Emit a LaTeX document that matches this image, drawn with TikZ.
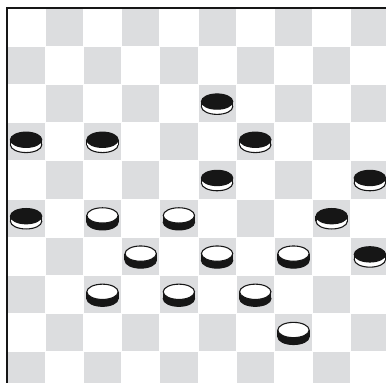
\documentclass[tikz,border=0pt]{standalone}
\usepackage{tikz}
\usepackage{xcolor}
\definecolor{boardgray}{RGB}{220,221,223}
\definecolor{inkblack}{RGB}{22,22,22}

\begin{document}
\begin{tikzpicture}[x=1cm, y=-1cm,
 sq/.style={fill=boardgray, draw=white, line width=.5pt},
 rim/.style={draw=inkblack, line width=.8pt},
 frame/.style={draw=inkblack, line width=1.5pt},
 whitepc/.pic={
  \filldraw[rim, fill=inkblack] (0,.11) ellipse [x radius=.41, y radius=.2];
  \fill[inkblack] (-.41,-.07) rectangle (.41,.11);
  \draw[rim] (-.41,-.07) -- (-.41,.11) (.41,-.07) -- (.41,.11);
  \filldraw[rim, fill=white] (0,-.07) ellipse [x radius=.41, y radius=.2];
 },
 blackpc/.pic={
  \filldraw[rim, fill=white] (0,.085) ellipse [x radius=.41, y radius=.2];
  \fill[white] (-.41,-.05) rectangle (.41,.085);
  \draw[rim] (-.41,-.05) -- (-.41,.085) (.41,-.05) -- (.41,.085);
  \filldraw[rim, fill=inkblack] (0,-.05) ellipse [x radius=.41, y radius=.2];
 }]
\useasboundingbox (0,0) rectangle (10.105,10.026);
\clip (0,0) rectangle (10.105,10.026);
\begin{scope}[shift={(0.183,0.209)}]
\foreach \r in {0,...,9}
 \foreach \c in {0,...,9} {
  \pgfmathtruncatemacro\odd{mod(\r+\c,2)}
  \ifnum\odd=1 \path[sq] (\c,\r) rectangle (\c+1,\r+1); \fi
 }
\draw[frame] (0,0) rectangle (10,10);
\foreach \c/\r in {5/2, 0/3, 2/3, 6/3, 5/4, 9/4, 0/5, 8/5, 9/6}
 \pic at (\c+.5,\r+.5) {blackpc};
\foreach \c/\r in {2/5, 4/5, 3/6, 5/6, 7/6, 2/7, 4/7, 6/7, 7/8}
 \pic at (\c+.5,\r+.5) {whitepc};
\end{scope}
\end{tikzpicture}
\end{document}
